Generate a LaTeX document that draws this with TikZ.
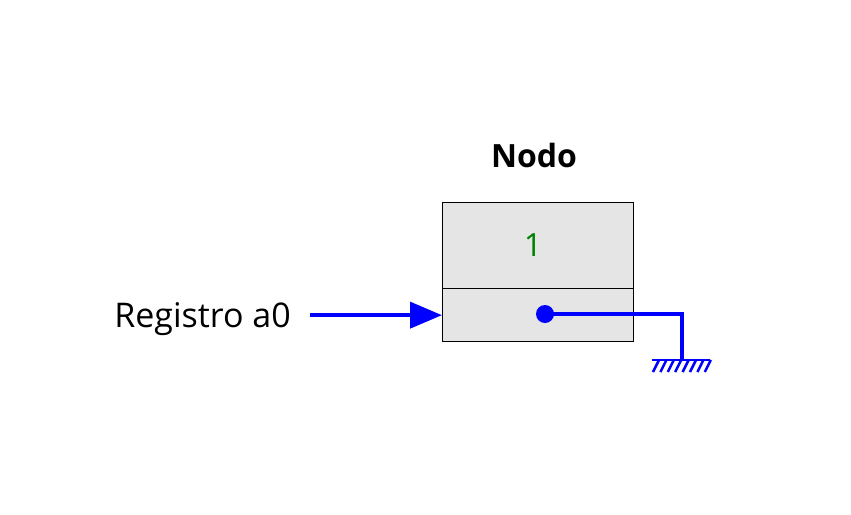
\documentclass[tikz,border=0pt]{standalone}
\usepackage{fontspec}
\setmainfont{Open Sans}
\usetikzlibrary{arrows.meta}

\begin{document}
\begin{tikzpicture}[x=1pt,y=-1pt,
					every node/.style={inner sep=0pt, font=\fontsize{34}{40}\selectfont},
					cell/.style={draw=black, fill=gray!20, line width=1.3pt, minimum width=191pt, anchor=north west},
					link/.style={draw=blue, line width=4pt},
					ptrarrow/.style={link, -{Triangle[length=32pt,width=26pt]}}]
\useasboundingbox (0,0) rectangle (851,514);
\node[cell, minimum height=86pt] (val) at (442,202) {};
\node[cell, minimum height=53pt] (ptr) at (442,288) {};
\node[text=green!50!black, font=\fontsize{32}{38}\selectfont] (num) at (533,245) {1};
\node[font=\fontsize{32}{38}\selectfont\bfseries] (title) at (534,155) {Nodo};
\node[anchor=base east] (reg) at (291,327) {Registro a0};
\coordinate (dot) at (545,314);
\coordinate (gnd) at (682,360);
\draw[ptrarrow, shorten <=19pt] (reg.east |- ptr.west) -- (ptr.west);
\fill[blue] (dot) circle (9pt);
\draw[link, line join=miter] (dot) -| (gnd);
% ground
\draw[blue, line width=2.5pt] (gnd) ++(-30,0) -- ++(58,0);
\foreach \i in {0,...,7}
	\draw[blue, line width=2.5pt] (gnd) ++(-23+\i*7.4,0) -- ++(-6,12);
\end{tikzpicture}
\end{document}
